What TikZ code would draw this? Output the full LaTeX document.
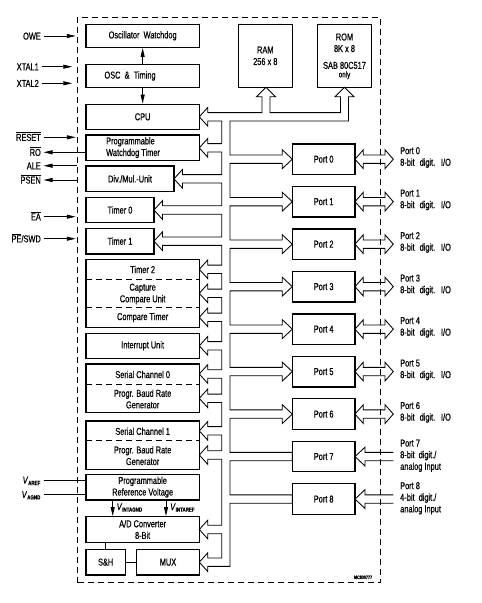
\documentclass[tikz,border=0pt]{standalone}
\usepackage{fontspec}
\setmainfont{Liberation Sans}[FakeStretch=0.74,FakeBold=0.6]
\usetikzlibrary{arrows.meta,calc}
\newcommand\ovl[1]{$\overline{\mbox{#1}}$}
\newcommand\vsub[1]{\textit{V}\textsubscript{\fontsize{6}{6}\selectfont\bfseries #1}}
\def\BL{221.7}
\def\BR{230}
\def\bsh{4.2}
\def\bhh{9.4}
\newcommand\LA[2]{-- (\BL,{#2-\bsh}) -- ({#1+8.5},{#2-\bsh}) -- ({#1+8.5},{#2-\bhh}) -- (#1,#2) -- ({#1+8.5},{#2+\bhh}) -- ({#1+8.5},{#2+\bsh}) -- (\BL,{#2+\bsh})}
\newcommand\RA[1]{-- (\BR,{#1+\bsh}) -- (282.3,{#1+\bsh}) -- (282.3,{#1+\bhh}) -- (292.3,#1) -- (282.3,{#1-\bhh}) -- (282.3,{#1-\bsh}) -- (\BR,{#1-\bsh})}
\newcommand\RP[1]{-- (\BR,{#1+\bsh}) -- (292.3,{#1+\bsh}) -- (292.3,{#1-\bsh}) -- (\BR,{#1-\bsh})}
\begin{document}
\begin{tikzpicture}[x=1pt,y=-1pt,
  every node/.append style={font=\fontsize{10}{11.6}\selectfont},
  box/.style={draw, line width=1.3pt, inner sep=0pt, align=center},
  lbl/.style={inner sep=2.5pt, text height=7.2pt, text depth=0pt},
  bus/.style={line width=0.85pt, line join=miter},
  arr/.style={line width=0.9pt, -{Triangle[length=9pt,width=4pt]}},
  div/.style={line width=0.8pt, dash pattern=on 6pt off 4pt},
  border/.style={line width=0.9pt, dash pattern=on 6pt off 4pt}]
\useasboundingbox (0,0) rectangle (482,603);
% outer dashed border
\node[border, draw, minimum width=302.3pt, minimum height=565.4pt, inner sep=0pt] (chip) at (228.85,300) {};
% left column boxes
\node[box, minimum width=113.3pt, minimum height=23pt] (ow) at (142.65,35.8) {Oscillator\ \ Watchdog};
\node[box, minimum width=113.3pt, minimum height=23pt] (osc) at (142.65,75.8) {};
\node[inner sep=0pt] (osct) at (130,76) {OSC \ \& \ Timing};
\node[box, minimum width=113.3pt, minimum height=25pt] (cpu) at (142.65,116.8) {CPU};
\node[box, minimum width=113.3pt, minimum height=25.7pt] (pwt) at (142.65,147.85) {};
\node[inner sep=0pt, anchor=west, align=left] (pwtt) at (106,147.6) {Programmable\\Watchdog Timer};
\node[box, minimum width=88pt, minimum height=25.7pt] (dm) at (130,178.85) {Div./Mul.-Unit};
\node[box, minimum width=68pt, minimum height=25.4pt] (t0) at (120,210) {Timer 0};
\node[box, minimum width=68pt, minimum height=25.7pt] (t1) at (120,241.15) {Timer 1};
\node[box, minimum width=113.3pt, minimum height=68pt] (t2) at (142.65,293.3) {};
\node (t2a) at (142.65,269.5) {Timer 2};
\node[align=center] (t2b) at (142.65,294) {Capture\\Compare Unit};
\node (t2c) at (142.65,317.5) {Compare Timer};
\draw[div] (86,279.3) -- (199.3,279.3);
\draw[div] (86,307.3) -- (199.3,307.3);
\node[box, minimum width=113.3pt, minimum height=25pt] (iu) at (142.65,345.8) {Interrupt Unit};
\node[box, minimum width=113.3pt, minimum height=48.7pt] (s0) at (142.65,388.35) {};
\node (s0a) at (142.65,374.5) {Serial Channel 0};
\node[align=center] (s0b) at (142.65,399) {Progr. Baud Rate\\Generator};
\draw[div] (86,384) -- (199.3,384);
\node[box, minimum width=113.3pt, minimum height=48.3pt] (s1) at (142.65,445.15) {};
\node (s1a) at (142.65,431.3) {Serial Channel 1};
\node[align=center] (s1b) at (142.65,455.6) {Progr. Baud Rate\\Generator};
\draw[div] (86,440.7) -- (199.3,440.7);
\node[box, minimum width=113.3pt, minimum height=25.7pt] (prv) at (142.65,487.15) {Programmable\\Reference Voltage};
\node[box, minimum width=113.3pt, minimum height=25.6pt] (ad) at (142.65,529.5) {A/D Converter\\8-Bit};
\node[box, minimum width=39.3pt, minimum height=25.7pt] (sh) at (105.65,562.15) {S\&H};
\node[box, minimum width=62.6pt, minimum height=25.7pt] (mux) at (168,562.15) {MUX};
\draw[line width=0.9pt] (sh.north) -- (sh.north |- ad.south);
\draw[line width=0.9pt] (sh.east) -- (mux.west);
% internal arrows
\draw[arr] (osc.north) -- (ow.south);
\draw[arr] (osc.south) -- (cpu.north);
\coordinate (ag) at (112.7,500);
\coordinate (ar) at (166,500);
\draw[arr] (ag) -- (ag |- ad.north);
\draw[arr] (ar) -- (ar |- ad.north);
\node[anchor=west, inner sep=0pt] (vag) at (116.5,507.5) {\vsub{INTAGND}};
\node[anchor=west, inner sep=0pt] (var) at (170,507.5) {\vsub{INTAREF}};
% memory
\node[box, minimum width=54pt, minimum height=63pt] (ram) at (265.3,55.8) {RAM\\256 x 8};
\node[box, minimum width=54.4pt, minimum height=63pt] (rom) at (344.5,55.8) {};
\node[align=center] (romt) at (344.5,42.8) {ROM\\8K x 8};
\node[align=center, font=\fontsize{10}{8.5}\selectfont] (romu) at (344.5,70.5) {SAB 80C517\\{\fontsize{8.5}{8.5}\selectfont only}};
% ports
\foreach \i in {0,...,8} {
  \node[box, minimum width=62.7pt, minimum height=30.5pt] (p\i) at (323.65,{159.2+42.48*\i}) {Port \i};
}
\foreach \i in {0,...,6} {
  \node[anchor=west, align=left, inner sep=0pt] (pl\i) at (400,{157.5+42.48*\i}) {Port \i\\8-bit\hspace{3pt} digit.\hspace{3pt} I/O};
  \draw[bus] (355,{159.2+42.48*\i}) -- (363.3,{159.2+42.48*\i-\bhh}) -- (363.3,{159.2+42.48*\i-\bsh}) -- (385,{159.2+42.48*\i-\bsh}) -- (385,{159.2+42.48*\i-\bhh}) -- (393.3,{159.2+42.48*\i}) -- (385,{159.2+42.48*\i+\bhh}) -- (385,{159.2+42.48*\i+\bsh}) -- (363.3,{159.2+42.48*\i+\bsh}) -- (363.3,{159.2+42.48*\i+\bhh}) -- cycle;
}
\node[anchor=west, align=left, inner sep=0pt] (pl7) at (400,455.8) {Port 7\\8-bit\hspace{2pt} digit./\\analog Input};
\node[anchor=west, align=left, inner sep=0pt] (pl8) at (400,498.3) {Port 8\\4-bit\hspace{2pt} digit./\\analog Input};
\foreach \c in {456.56,499.04} {
  \draw[bus] (393.3,{\c-\bsh}) -- (365,{\c-\bsh}) -- (365,{\c-\bhh}) -- (355,\c) -- (365,{\c+\bhh}) -- (365,{\c+\bsh}) -- (393.3,{\c+\bsh});
}
% internal bus
\draw[bus] (262,96.7) -- (262,112.6) -- (207.8,112.6) -- (207.8,107.4) -- (199.3,116.8) -- (207.8,126.2) -- (207.8,121) -- (\BL,121)
 \LA{199.3}{147.85} \LA{174}{178.85} \LA{154}{210} \LA{154}{241.15} \LA{199.3}{269.3} \LA{199.3}{293.3} \LA{199.3}{317.3} \LA{199.3}{345.8} \LA{199.3}{374} \LA{199.3}{398.35} \LA{199.3}{430.85} \LA{199.3}{455} \LA{199.3}{529.5}
 -- (\BL,557.95) -- (207.8,557.95) -- (207.8,552.75) -- (199.3,562.15) -- (207.8,571.55) -- (207.8,566.35) -- (\BR,566.35)
 \RP{499.04} \RP{456.56} \RA{414.08} \RA{371.6} \RA{329.12} \RA{286.64} \RA{244.16} \RA{201.68} \RA{159.2}
 -- (\BR,121) -- (348.5,121) -- (348.5,96.7) -- (354,96.7) -- (344.5,87.3) -- (335,96.7) -- (340.5,96.7) -- (340.5,112.6) -- (270,112.6) -- (270,96.7) -- (275.5,96.7) -- (266,87.3) -- (256.5,96.7) -- cycle;
% external pins
\node[lbl, anchor=east] (owe) at (43.5,36) {OWE};
\node[lbl, anchor=east] (x1) at (41.5,66.7) {XTAL1};
\node[lbl, anchor=east] (x2) at (41.5,83.3) {XTAL2};
\node[lbl, anchor=east] (rst) at (43.5,137.3) {\ovl{RESET}};
\node[lbl, anchor=east] (ro) at (43.5,152.3) {\ovl{RO}};
\node[lbl, anchor=east] (ale) at (43.5,165.7) {ALE};
\node[lbl, anchor=east] (psen) at (43.5,180) {\ovl{PSEN}};
\node[lbl, anchor=east] (ea) at (43.5,216.7) {\ovl{EA}};
\node[lbl, anchor=east] (pe) at (43.5,238.7) {\ovl{PE}/SWD};
\node[lbl, anchor=east] (vref) at (43.5,480) {\vsub{AREF}};
\node[lbl, anchor=east] (vgnd) at (43.5,494.3) {\vsub{AGND}};
\draw[arr, shorten >=1.5pt] (owe.east) -- (owe.east -| chip.west);
\draw[arr, shorten >=5pt] (x1.east) -- (x1.east -| chip.west);
\draw[arr, shorten >=5pt] (x2.east) -- (x2.east -| chip.west);
\draw[arr, shorten >=1.5pt] (rst.east) -- (rst.east -| chip.west);
\draw[arr] (ro.east -| pwt.west) -- (ro.east);
\draw[arr] (ale.east -| chip.west) -- (ale.east);
\draw[arr] (psen.east -| chip.west) -- (psen.east);
\draw[arr, shorten >=1.5pt] (ea.east) -- (ea.east -| chip.west);
\draw[arr, shorten >=1.5pt] (pe.east) -- (pe.east -| chip.west);
\draw[line width=0.9pt] (vref.east) -- (vref.east -| prv.west);
\draw[line width=0.9pt] (vgnd.east) -- (vgnd.east -| prv.west);
\node[font=\fontsize{5}{5}\selectfont\bfseries, inner sep=0pt] (mc) at (363,577.3) {MC800777};
\end{tikzpicture}
\end{document}
